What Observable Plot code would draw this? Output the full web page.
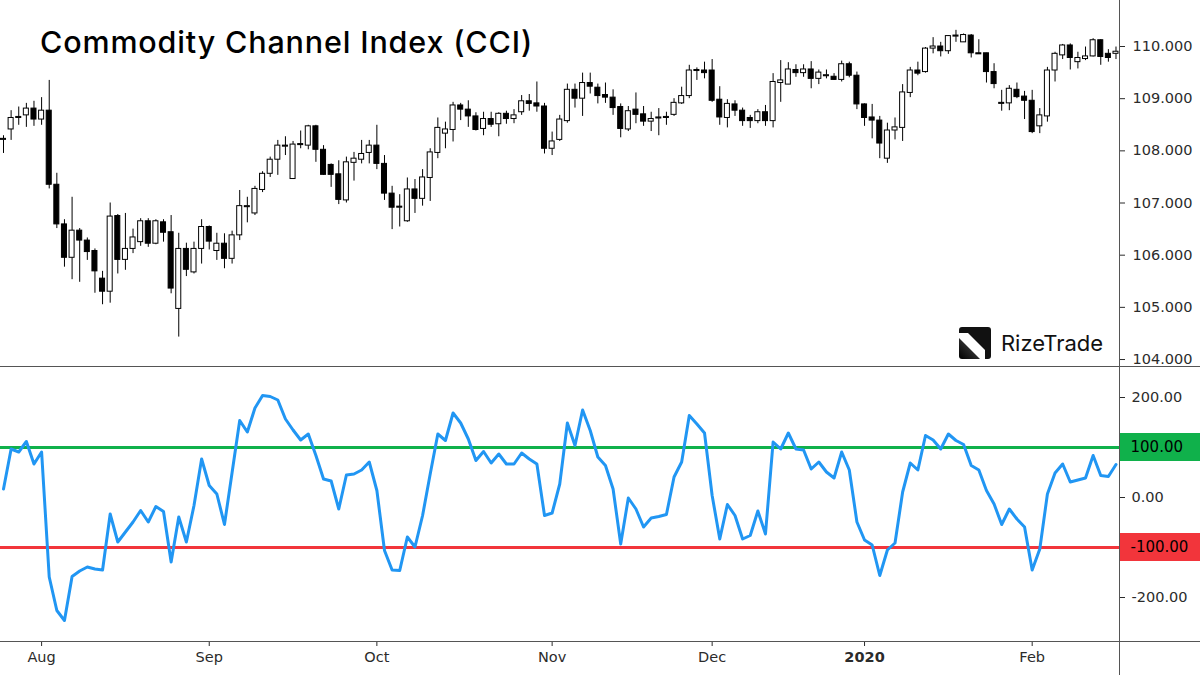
<!DOCTYPE html>
<html><head><meta charset="utf-8">
<script src="https://cdn.jsdelivr.net/npm/d3@7"></script>
<script src="https://cdn.jsdelivr.net/npm/@observablehq/plot@0.6"></script>
<style>
html,body{margin:0;padding:0;background:#fff;}
#wrap{position:relative;width:1200px;height:675px;overflow:hidden;background:#fff;}
#top,#bot{position:absolute;left:0;}
#top{top:0;} #bot{top:367px;}
.hline{position:absolute;left:0;width:1200px;height:0;border-top:1.5px solid #555;}
.vline{position:absolute;top:0;width:0;height:675px;border-left:1.5px solid #555;}
#title{position:absolute;left:40px;top:27px;font-family:Inter,"Open Sans",sans-serif;font-weight:500;font-size:30.5px;color:#000;white-space:nowrap;line-height:1;}
#logo{position:absolute;left:959px;top:327px;display:flex;align-items:center;}
#logoText{font-family:Inter,Roboto,sans-serif;font-weight:400;font-size:22px;color:#111;margin-left:10px;white-space:nowrap;line-height:1;}
</style></head><body>
<div id="wrap">
  <div id="top"></div>
  <div id="bot"></div>
  <div class="hline" style="top:366px"></div>
  <div class="hline" style="top:641px"></div>
  <div class="vline" style="left:1118.5px"></div>
  <div id="title">Commodity Channel Index (CCI)</div>
  <div id="logo">
    <svg width="32" height="32" viewBox="0 0 32 32">
      <defs><linearGradient id="lg" x1="0" y1="1" x2="1" y2="0"><stop offset="0" stop-color="#000"/><stop offset="1" stop-color="#555"/></linearGradient></defs>
      <path d="M0 3 Q0 0 3 0 H29 Q32 0 32 3 V29 Q32 32 29 32 H26 V6 H0 Z" fill="#111"/>
      <path d="M9 6 H26 V23 Z" fill="#111"/>
      <path d="M0 11 L21 32 H3 Q0 32 0 29 Z" fill="url(#lg)"/>
    </svg>
    <span id="logoText">RizeTrade</span>
  </div>
</div>
<script>
// ---- data ----
const open = [108.21,108.41,108.63,108.68,108.81,108.60,108.77,107.35,106.59,105.95,106.47,106.28,106.08,105.55,105.30,106.75,105.91,106.12,106.25,106.65,106.22,106.63,106.44,104.97,106.12,105.67,106.12,106.54,106.08,106.22,105.93,106.38,106.92,106.80,107.25,107.56,107.83,108.08,107.46,108.11,108.10,108.47,108.02,107.73,107.55,107.05,107.77,107.83,107.96,108.10,107.75,107.18,106.91,106.65,107.26,107.08,107.48,107.96,108.33,108.40,108.87,108.79,108.66,108.42,108.61,108.51,108.71,108.61,108.74,108.95,108.91,108.85,108.04,108.21,108.57,109.17,109.00,109.30,109.21,109.07,109.02,108.84,108.41,108.79,108.70,108.56,108.62,108.63,108.69,108.91,109.05,109.53,109.54,109.54,108.98,108.63,108.89,108.77,108.63,108.57,108.74,108.57,109.30,109.27,109.55,109.49,109.56,109.38,109.43,109.42,109.36,109.66,109.44,108.89,108.64,108.58,107.85,108.39,108.44,109.11,109.54,109.51,109.96,110.00,109.91,110.19,110.08,110.21,109.87,109.87,109.51,108.90,108.91,109.17,109.04,108.96,108.47,108.66,109.54,109.83,110.02,109.70,109.76,109.81,110.12,109.86,109.86];
const high = [108.29,108.77,108.84,108.91,108.95,109.02,109.35,107.57,106.68,107.11,106.51,106.33,106.12,105.69,107.00,106.78,106.80,106.50,106.70,106.70,106.68,106.68,106.76,106.42,106.23,106.25,106.68,106.56,106.42,106.41,106.46,107.24,107.11,107.32,107.60,107.88,108.20,108.27,108.18,108.38,108.49,108.49,108.10,107.75,107.81,107.88,107.97,108.20,108.20,108.49,107.91,107.32,107.16,107.48,107.45,107.64,108.04,108.63,108.55,108.93,108.91,108.96,108.73,108.74,108.74,108.73,108.76,108.79,109.06,109.08,109.32,108.91,108.36,108.68,109.28,109.28,109.49,109.49,109.28,109.30,109.17,108.90,108.85,109.11,108.85,108.74,108.81,108.74,109.00,109.22,109.64,109.59,109.70,109.75,109.23,108.98,108.96,108.82,108.68,108.79,108.87,109.48,109.73,109.69,109.65,109.65,109.71,109.55,109.55,109.48,109.72,109.70,109.51,108.90,108.89,108.66,108.53,108.63,109.27,109.60,109.70,109.98,110.17,110.08,110.21,110.31,110.24,110.23,110.13,109.87,109.67,109.16,109.25,109.30,109.14,109.16,108.81,109.60,109.89,110.04,110.05,109.89,109.99,110.15,110.13,109.94,109.99];
const low = [107.95,108.20,108.49,108.45,108.47,108.49,107.27,106.51,105.77,105.53,105.48,105.90,105.27,105.05,105.08,105.64,105.71,106.03,106.17,106.15,106.20,106.25,105.26,104.43,105.59,105.64,105.83,106.10,105.90,105.74,105.83,106.28,106.62,106.76,107.20,107.49,107.53,107.91,107.45,108.04,108.02,107.78,107.53,107.30,106.97,107.00,107.42,107.75,107.75,107.64,107.05,106.49,106.54,106.63,106.80,106.94,107.03,107.85,108.04,108.17,108.58,108.45,108.38,108.29,108.45,108.27,108.51,108.52,108.68,108.76,108.74,107.94,107.91,108.18,108.53,108.82,108.66,109.09,108.90,108.91,108.68,108.25,108.37,108.52,108.47,108.37,108.29,108.49,108.66,108.89,109.00,109.35,109.38,108.93,108.49,108.44,108.66,108.47,108.43,108.52,108.47,108.44,108.93,109.27,109.41,109.41,109.19,109.27,109.38,109.35,109.32,109.40,108.79,108.47,108.23,107.85,107.76,108.21,108.18,109.02,109.44,109.49,109.86,109.80,109.85,110.08,110.08,109.78,109.85,109.30,109.19,108.76,108.77,109.00,108.60,108.33,108.33,108.55,109.32,109.75,109.55,109.57,109.73,109.80,109.64,109.70,109.75];
const close = [108.23,108.63,108.65,108.81,108.60,108.77,107.35,106.59,105.95,106.47,106.28,106.06,105.69,105.30,106.74,105.91,106.12,106.34,106.65,106.22,106.65,106.43,105.36,106.12,105.72,106.12,106.54,106.26,106.22,105.93,106.38,106.94,106.94,107.27,107.56,107.83,108.10,108.10,108.12,108.13,108.47,108.02,107.54,107.54,107.06,107.78,107.85,107.94,108.10,107.75,107.18,106.91,106.93,107.26,107.08,107.49,107.97,108.44,108.41,108.87,108.79,108.66,108.40,108.61,108.50,108.71,108.61,108.68,108.95,108.90,108.85,108.04,108.18,108.60,109.17,109.00,109.30,109.23,109.05,109.02,108.82,108.42,108.76,108.69,108.56,108.61,108.64,108.65,108.92,109.05,109.54,109.55,109.49,108.96,108.64,108.90,108.77,108.57,108.57,108.74,108.57,109.32,109.35,109.56,109.49,109.56,109.38,109.50,109.45,109.36,109.66,109.44,108.89,108.63,108.58,108.14,108.39,108.45,109.12,109.54,109.48,109.96,110.00,109.91,110.20,110.21,110.22,109.87,109.85,109.51,109.28,108.92,109.19,109.03,108.96,108.36,108.68,109.54,109.86,110.02,109.78,109.78,109.81,110.12,109.80,109.78,109.90];
const cci = [17,97,91,112,67,91,-159,-226,-246,-158,-147,-139,-143,-145,-33,-89,-69,-49,-26,-49,-18,-28,-129,-39,-89,-16,77,24,7,-54,50,154,131,179,204,202,195,157,135,115,127,84,37,33,-23,45,47,55,71,14,-106,-145,-146,-79,-99,-36,47,127,114,169,149,117,74,92,69,87,67,67,89,77,67,-36,-31,27,149,104,175,134,81,64,17,-93,-1,-23,-59,-41,-38,-34,41,71,164,147,129,4,-83,-14,-36,-83,-76,-27,-73,111,97,129,97,95,57,71,51,39,91,55,-49,-85,-95,-156,-105,-91,11,69,55,124,115,97,127,114,106,64,55,14,-13,-54,-23,-43,-59,-145,-103,7,49,67,31,35,39,84,44,42,66];
const priceTicks = [104,105,106,107,108,109,110];
const cciTicks = [200,0,-200];
const levels = [100,-100];
const levelColors = ["#10b14b","#f2353b"];
const monthTicks = [5,27,49,72,93,113,135];
const monthLabels = ["Aug","Sep","Oct","Nov","Dec","2020","Feb"];

// ---- tables ----
const candles = open.map((o,i)=>({i, open:o, high:high[i], low:low[i], close:close[i]}));
const cciData = cci.map((v,i)=>({i, v}));
const levelData = levels.map((v,k)=>({v, color:levelColors[k], label:v.toFixed(2)}));

const xDomain = [-0.394, 146.46];
const axisFont = "DejaVu Sans, Verdana, sans-serif";

const topChart = Plot.plot({
  width:1200, height:367, marginLeft:0, marginRight:81, marginTop:0, marginBottom:0,
  x:{domain:xDomain, axis:null},
  y:{domain:[103.847,110.882]},
  color:{type:"identity"},
  style:{fontFamily:axisFont, fontSize:"14.5px", color:"#2b2b2b", background:"transparent", overflow:"visible"},
  marks:[
    Plot.axisY({anchor:"right", ticks:priceTicks, tickFormat:d=>d.toFixed(3), tickSize:5, tickPadding:8, label:null, fontSize:14.5}),
    Plot.ruleX(candles,{x:"i", y1:"low", y2:"high", stroke:"#000", strokeWidth:1}),
    Plot.rect(candles,{x1:d=>d.i-0.33, x2:d=>d.i+0.33, y1:"open", y2:"close",
      fill:d=>d.close<d.open?"#000":"#fff", stroke:"#000", strokeWidth:1})
  ]
});
document.getElementById("top").appendChild(topChart);

const botChart = Plot.plot({
  width:1200, height:308, marginLeft:0, marginRight:81, marginTop:0, marginBottom:33,
  x:{domain:xDomain},
  y:{domain:[-290,260]},
  color:{type:"identity"},
  style:{fontFamily:axisFont, fontSize:"14.5px", color:"#2b2b2b", background:"transparent", overflow:"visible"},
  marks:[
    Plot.axisY({anchor:"right", ticks:cciTicks, tickFormat:d=>d.toFixed(2), tickSize:5, tickPadding:7, label:null, fontSize:14.5}),
    Plot.axisX({anchor:"bottom", ticks:monthTicks, tickFormat:d=>monthLabels[monthTicks.indexOf(d)], tickSize:4, tickPadding:5, label:null, fontSize:14.5}),
    Plot.ruleY(levelData,{y:"v", stroke:"color", strokeWidth:3}),
    Plot.lineY(cciData,{x:"i", y:"v", stroke:"#2196f3", strokeWidth:3, strokeLinejoin:"round"}),
    Plot.rect(levelData,{x1:()=>xDomain[1], x2:()=>xDomain[1], y1:"v", y2:"v", fill:"color", insetRight:-81, insetTop:-14, insetBottom:-14}),
    Plot.text(levelData,{x:()=>xDomain[1], y:"v", text:"label", textAnchor:"start", dx:11, fill:"#000", fontSize:15})
  ]
});
d3.select(botChart).selectAll("text").filter(function(){return this.textContent==="2020";}).attr("font-weight","bold");
document.getElementById("bot").appendChild(botChart);

// fit title and logo text widths to the reference
function fit(el, target){
  const w = el.getBoundingClientRect().width;
  const n = el.textContent.length;
  el.style.letterSpacing = ((target - w)/n) + "px";
}
fit(document.getElementById("title"), 493);
fit(document.getElementById("logoText"), 102);
</script>
</body></html>
